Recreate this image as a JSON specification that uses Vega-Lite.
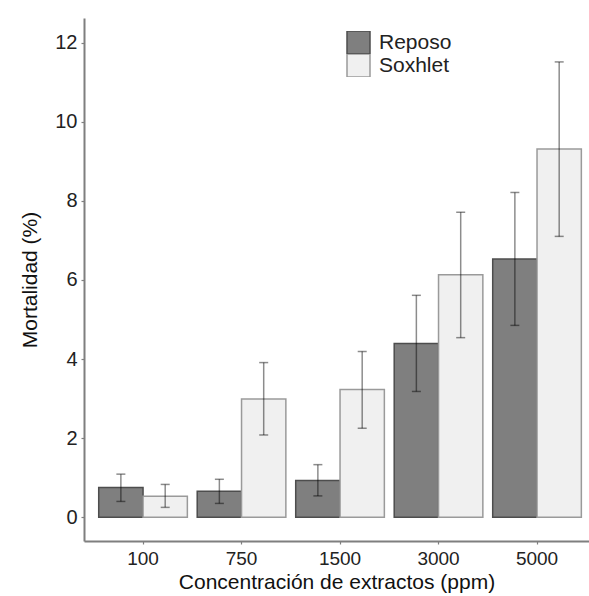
{
  "$schema": "https://vega.github.io/schema/vega-lite/v6.json",
  "autosize": {"type": "none"},
  "width": 505,
  "height": 523,
  "padding": {"left": 84, "top": 18, "right": 0, "bottom": 55},
  "background": "white",
  "config": {
    "view": {"stroke": null},
    "font": "Liberation Sans",
    "axis": {"grid": false, "domainColor": "#7f7f7f", "domainWidth": 2, "tickColor": "#7f7f7f", "tickWidth": 1.2, "tickSize": 3, "labelColor": "#222222", "titleColor": "#111111", "labelFont": "Liberation Sans", "titleFont": "Liberation Sans", "titleFontWeight": "normal"}
  },
  "data": {"values": [
    {"conc": "100", "metodo": "Reposo", "media": 0.75, "lo": 0.40, "hi": 1.09},
    {"conc": "100", "metodo": "Soxhlet", "media": 0.53, "lo": 0.25, "hi": 0.83},
    {"conc": "750", "metodo": "Reposo", "media": 0.66, "lo": 0.35, "hi": 0.96},
    {"conc": "750", "metodo": "Soxhlet", "media": 2.99, "lo": 2.08, "hi": 3.91},
    {"conc": "1500", "metodo": "Reposo", "media": 0.93, "lo": 0.54, "hi": 1.33},
    {"conc": "1500", "metodo": "Soxhlet", "media": 3.23, "lo": 2.25, "hi": 4.19},
    {"conc": "3000", "metodo": "Reposo", "media": 4.39, "lo": 3.18, "hi": 5.61},
    {"conc": "3000", "metodo": "Soxhlet", "media": 6.13, "lo": 4.54, "hi": 7.71},
    {"conc": "5000", "metodo": "Reposo", "media": 6.53, "lo": 4.85, "hi": 8.21},
    {"conc": "5000", "metodo": "Soxhlet", "media": 9.31, "lo": 7.10, "hi": 11.51}
  ]},
  "encoding": {
    "x": {
      "field": "conc", "type": "nominal", "sort": ["100", "750", "1500", "3000", "5000"],
      "scale": {"paddingInner": 0.1, "paddingOuter": 0.1135, "align": 0.658},
      "axis": {"labelAngle": 0, "labelFontSize": 19, "labelPadding": 5, "title": "Concentración de extractos (ppm)", "titleFontSize": 21, "titlePadding": 3}
    },
    "xOffset": {"field": "metodo", "type": "nominal", "sort": ["Reposo", "Soxhlet"], "scale": {"paddingInner": 0, "paddingOuter": 0}}
  },
  "layer": [
    {
      "mark": {"type": "bar", "strokeWidth": 1.5},
      "encoding": {
        "y": {
          "field": "media", "type": "quantitative",
          "scale": {"domain": [-0.6, 12.62], "nice": false, "zero": false},
          "axis": {"values": [0, 2, 4, 6, 8, 10, 12], "labelFontSize": 20, "labelPadding": 4, "title": "Mortalidad (%)", "titleFontSize": 21, "titlePadding": 14}
        },
        "fill": {
          "field": "metodo", "type": "nominal",
          "scale": {"domain": ["Reposo", "Soxhlet"], "range": ["#7f7f7f", "#f0f0f0"]},
          "legend": {
            "title": null, "orient": "none", "legendX": 262, "legendY": 13,
            "symbolType": "square", "symbolSize": 529, "symbolStrokeWidth": 1.5,
            "rowPadding": 0, "clipHeight": 23, "labelFontSize": 21, "labelColor": "#222222", "labelOffset": 8,
            "labelFont": "Liberation Sans"
          }
        },
        "stroke": {
          "field": "metodo", "type": "nominal",
          "scale": {"domain": ["Reposo", "Soxhlet"], "range": ["#4d4d4d", "#9a9a9a"]},
          "legend": {
            "title": null, "orient": "none", "legendX": 262, "legendY": 13,
            "symbolType": "square", "symbolSize": 529, "symbolStrokeWidth": 1.5,
            "rowPadding": 0, "clipHeight": 23, "labelFontSize": 21, "labelColor": "#222222", "labelOffset": 8,
            "labelFont": "Liberation Sans"
          }
        }
      }
    },
    {
      "mark": {"type": "rule", "color": "black", "opacity": 0.45, "strokeWidth": 1.5},
      "encoding": {
        "y": {"field": "lo", "type": "quantitative"},
        "y2": {"field": "hi"}
      }
    },
    {
      "mark": {"type": "tick", "color": "black", "opacity": 0.45, "thickness": 1.5, "size": 9},
      "encoding": {"y": {"field": "lo", "type": "quantitative"}}
    },
    {
      "mark": {"type": "tick", "color": "black", "opacity": 0.45, "thickness": 1.5, "size": 9},
      "encoding": {"y": {"field": "hi", "type": "quantitative"}}
    }
  ]
}
